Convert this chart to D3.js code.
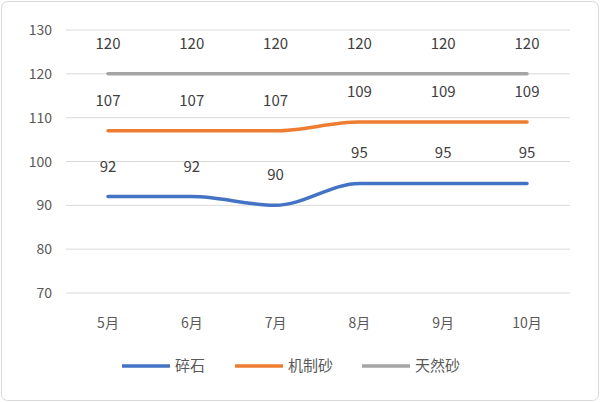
<!DOCTYPE html>
<html><head><meta charset="utf-8">
<script src="https://cdn.jsdelivr.net/npm/d3@7"></script>
<style>body{margin:0;background:#fff}</style>
</head><body>
<svg id="c" width="600" height="402"></svg>
<script>
// --- data ---
var months = ["5月", "6月", "7月", "8月", "9月", "10月"];
var suishi = [92, 92, 90, 95, 95, 95];
var jizhisha = [107, 107, 107, 109, 109, 109];
var tianransha = [120, 120, 120, 120, 120, 120];
var yTicks = [70, 80, 90, 100, 110, 120, 130];

var series = [
  { name: "碎石", values: suishi, color: "#4472C4" },
  { name: "机制砂", values: jizhisha, color: "#ED7D31" },
  { name: "天然砂", values: tianransha, color: "#A5A5A5" }
];

var svg = d3.select("#c");
var font = "'Microsoft YaHei','Noto Sans CJK SC',sans-serif";

svg.append("rect").attr("x", 1.5).attr("y", 1.5).attr("width", 597).attr("height", 399)
  .attr("rx", 6).attr("fill", "#fff").attr("stroke", "#d9d9d9");

var x = d3.scalePoint().domain(months).range([108, 527]);
var y = d3.scaleLinear().domain([70, 130]).range([293, 30]);

// gridlines
svg.selectAll(".grid").data(yTicks).enter().append("line")
  .attr("x1", 66).attr("x2", 570)
  .attr("y1", function(d) { return y(d); }).attr("y2", function(d) { return y(d); })
  .attr("stroke", "#d9d9d9").attr("stroke-width", 1);

svg.selectAll(".yl").data(yTicks).enter().append("text")
  .attr("x", 52).attr("y", function(d) { return y(d) + 5; })
  .attr("text-anchor", "end").attr("font-size", 14).attr("fill", "#595959")
  .attr("font-family", font).text(function(d) { return d; });

svg.selectAll(".xl").data(months).enter().append("text")
  .attr("x", function(d) { return x(d); }).attr("y", 328)
  .attr("text-anchor", "middle").attr("font-size", 14).attr("fill", "#595959")
  .attr("font-family", font).text(function(d) { return d; });

var line = d3.line()
  .x(function(d, i) { return x(months[i]); })
  .y(function(d) { return y(d); })
  .curve(d3.curveMonotoneX);

series.forEach(function(s) {
  svg.append("path").attr("d", line(s.values)).attr("fill", "none")
    .attr("stroke", s.color).attr("stroke-width", 3.5).attr("stroke-linecap", "round");
  svg.selectAll(null).data(s.values).enter().append("text")
    .attr("x", function(d, i) { return x(months[i]); })
    .attr("y", function(d) { return y(d) - 25; })
    .attr("text-anchor", "middle").attr("font-size", 15).attr("fill", "#404040")
    .attr("font-family", font).text(function(d) { return d; });
});

// legend
var legX = [122, 235, 362];
series.forEach(function(s, i) {
  svg.append("line").attr("x1", legX[i]).attr("x2", legX[i] + 48)
    .attr("y1", 366).attr("y2", 366).attr("stroke", s.color).attr("stroke-width", 3.5);
  svg.append("text").attr("x", legX[i] + 53).attr("y", 371)
    .attr("font-size", 15).attr("fill", "#595959").attr("font-family", font).text(s.name);
});
</script>
</body></html>
